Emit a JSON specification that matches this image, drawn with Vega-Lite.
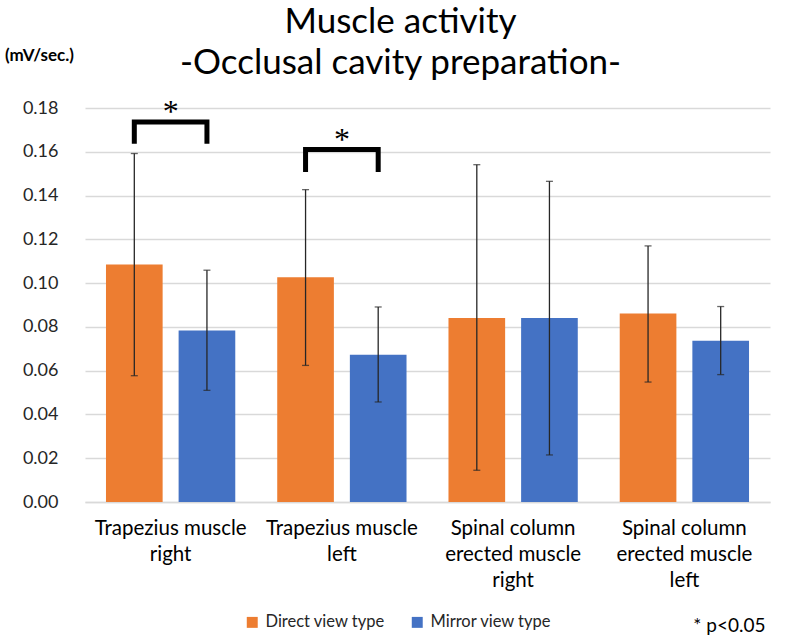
{
  "$schema": "https://vega.github.io/schema/vega-lite/v6.json",
  "width": 685,
  "height": 394,
  "autosize": "none",
  "padding": {"left": 85, "top": 108, "right": 30, "bottom": 138},
  "background": "white",
  "title": {
    "text": ["Muscle activity", "-Occlusal cavity preparation-"],
    "font": "Lato",
    "fontSize": 35,
    "fontWeight": "normal",
    "color": "#000000",
    "lineHeight": 41,
    "anchor": "middle",
    "dx": -27,
    "offset": -35
  },
  "datasets": {
    "bars": [
      {"group": "Trapezius muscle|right", "type": "Direct view type", "mean": 0.1085, "lo": 0.0577, "hi": 0.1592},
      {"group": "Trapezius muscle|right", "type": "Mirror view type", "mean": 0.0784, "lo": 0.0510, "hi": 0.1059},
      {"group": "Trapezius muscle|left", "type": "Direct view type", "mean": 0.1027, "lo": 0.0624, "hi": 0.1427},
      {"group": "Trapezius muscle|left", "type": "Mirror view type", "mean": 0.0673, "lo": 0.0457, "hi": 0.0891},
      {"group": "Spinal column|erected muscle|right", "type": "Direct view type", "mean": 0.0841, "lo": 0.0145, "hi": 0.1541},
      {"group": "Spinal column|erected muscle|right", "type": "Mirror view type", "mean": 0.0841, "lo": 0.0215, "hi": 0.1465},
      {"group": "Spinal column|erected muscle|left", "type": "Direct view type", "mean": 0.0861, "lo": 0.0548, "hi": 0.1170},
      {"group": "Spinal column|erected muscle|left", "type": "Mirror view type", "mean": 0.0737, "lo": 0.0582, "hi": 0.0893}
    ],
    "brackets": [
      {"bracket": "b1", "group": "Trapezius muscle|right", "type": "Direct view type", "y": 0.1637, "ord": 1},
      {"bracket": "b1", "group": "Trapezius muscle|right", "type": "Direct view type", "y": 0.1736, "ord": 2},
      {"bracket": "b1", "group": "Trapezius muscle|right", "type": "Mirror view type", "y": 0.1736, "ord": 3},
      {"bracket": "b1", "group": "Trapezius muscle|right", "type": "Mirror view type", "y": 0.1637, "ord": 4},
      {"bracket": "b2", "group": "Trapezius muscle|left", "type": "Direct view type", "y": 0.1508, "ord": 1},
      {"bracket": "b2", "group": "Trapezius muscle|left", "type": "Direct view type", "y": 0.1610, "ord": 2},
      {"bracket": "b2", "group": "Trapezius muscle|left", "type": "Mirror view type", "y": 0.1610, "ord": 3},
      {"bracket": "b2", "group": "Trapezius muscle|left", "type": "Mirror view type", "y": 0.1508, "ord": 4}
    ],
    "stars": [
      {"group": "Trapezius muscle|right", "y": 0.1813, "label": "*"},
      {"group": "Trapezius muscle|left", "y": 0.1687, "label": "*"}
    ]
  },
  "encoding": {
    "x": {
      "field": "group",
      "type": "nominal",
      "sort": null,
      "scale": {"paddingInner": 0.245, "paddingOuter": 0.1225},
      "axis": {
        "title": "* p<0.05",
        "titleFont": "Lato",
        "titleFontSize": 19,
        "titleFontWeight": "normal",
        "titleColor": "#000000",
        "titleAnchor": "end",
        "titleAlign": "right",
        "titleX": 680,
        "titleY": 123,
        "titleBaseline": "middle",
        "labelAngle": 0,
        "labelExpr": "split(datum.value, '|')",
        "labelFont": "Lato",
        "labelFontSize": 20.5,
        "labelColor": "#000000",
        "labelLineHeight": 26,
        "labelPadding": 16,
        "labelBaseline": "top",
        "labelLimit": 300,
        "ticks": false,
        "domain": true,
        "domainColor": "#d9d9d9",
        "domainWidth": 1.5,
        "grid": false
      }
    }
  },
  "layer": [
    {
      "data": {"name": "bars"},
      "mark": {"type": "bar"},
      "encoding": {
        "xOffset": {"field": "type", "type": "nominal", "scale": {"paddingInner": 0.22, "paddingOuter": 0}},
        "y": {
          "field": "mean",
          "type": "quantitative",
          "scale": {"domain": [0, 0.18], "nice": false},
          "axis": {
            "values": [0, 0.02, 0.04, 0.06, 0.08, 0.1, 0.12, 0.14, 0.16, 0.18],
            "format": ".2f",
            "title": "(mV/sec.)",
            "titleFont": "Lato",
            "titleFontSize": 17,
            "titleFontWeight": "bold",
            "titleColor": "#000000",
            "titleAngle": 0,
            "titleAlign": "center",
            "titleBaseline": "middle",
            "titleX": -46,
            "titleY": -53,
            "labelFont": "Lato",
            "labelFontSize": 18,
            "labelColor": "#262626",
            "labelPadding": 27,
            "domain": false,
            "ticks": false,
            "grid": true,
            "gridColor": "#d9d9d9",
            "gridWidth": 1.5
          }
        },
        "color": {
          "field": "type",
          "type": "nominal",
          "scale": {"domain": ["Direct view type", "Mirror view type"], "range": ["#ED7D31", "#4472C4"]},
          "legend": {
            "title": null,
            "orient": "none",
            "direction": "horizontal",
            "legendX": 159,
            "legendY": 506,
            "symbolType": "square",
            "symbolSize": 120,
            "symbolStrokeWidth": 0,
            "labelFont": "Lato",
            "labelFontSize": 16.5,
            "labelColor": "#262626",
            "labelOffset": 5,
            "columnPadding": 24
          }
        }
      }
    },
    {
      "data": {"name": "bars"},
      "mark": {"type": "rule", "color": "#262626", "strokeWidth": 1.3},
      "encoding": {
        "xOffset": {"field": "type", "type": "nominal", "scale": {"paddingInner": 0.22, "paddingOuter": 0}},
        "y": {"field": "lo", "type": "quantitative"},
        "y2": {"field": "hi"}
      }
    },
    {
      "data": {"name": "bars"},
      "mark": {"type": "tick", "color": "#262626", "thickness": 1.3, "size": 7},
      "encoding": {
        "xOffset": {"field": "type", "type": "nominal", "scale": {"paddingInner": 0.22, "paddingOuter": 0}},
        "y": {"field": "lo", "type": "quantitative"}
      }
    },
    {
      "data": {"name": "bars"},
      "mark": {"type": "tick", "color": "#262626", "thickness": 1.3, "size": 7},
      "encoding": {
        "xOffset": {"field": "type", "type": "nominal", "scale": {"paddingInner": 0.22, "paddingOuter": 0}},
        "y": {"field": "hi", "type": "quantitative"}
      }
    },
    {
      "data": {"name": "brackets"},
      "mark": {"type": "line", "color": "#000000", "strokeWidth": 5, "strokeJoin": "miter", "strokeCap": "butt"},
      "encoding": {
        "xOffset": {"field": "type", "type": "nominal", "scale": {"paddingInner": 0.22, "paddingOuter": 0}},
        "y": {"field": "y", "type": "quantitative"},
        "detail": {"field": "bracket"},
        "order": {"field": "ord"}
      }
    },
    {
      "data": {"name": "stars"},
      "mark": {"type": "text", "font": "Liberation Serif", "fontSize": 32, "color": "#000000", "baseline": "middle", "dy": 7},
      "encoding": {
        "y": {"field": "y", "type": "quantitative"},
        "text": {"field": "label"}
      }
    }
  ],
  "config": {"view": {"stroke": null}}
}
